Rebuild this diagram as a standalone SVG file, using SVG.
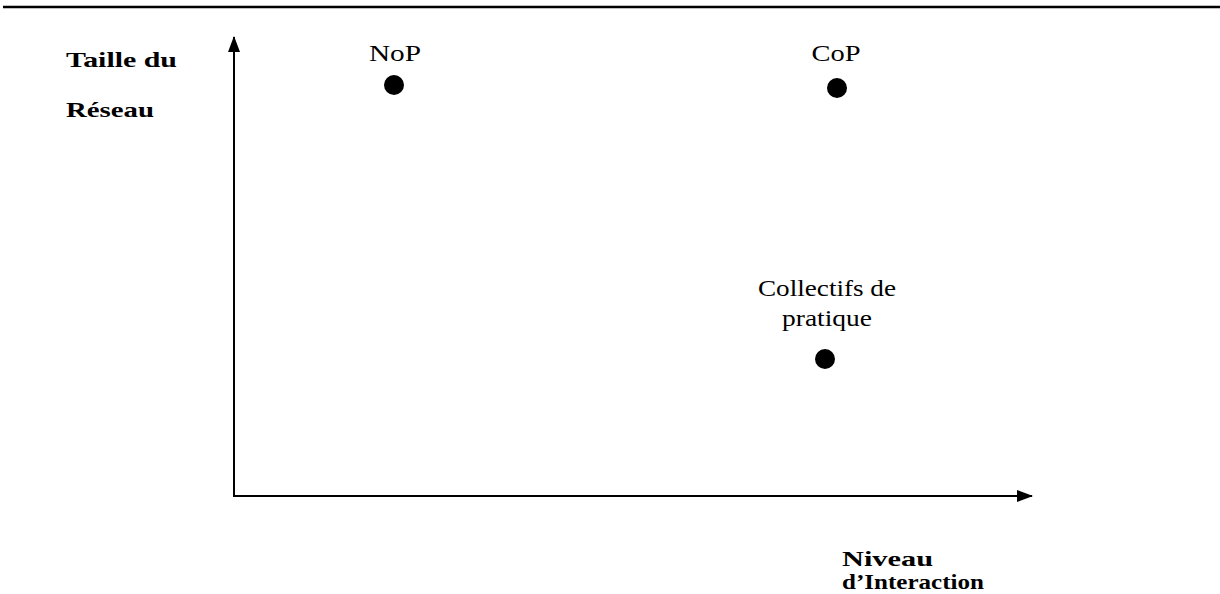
<svg xmlns="http://www.w3.org/2000/svg" width="1220" height="594" viewBox="0 0 1220 594">
<style>
.lbl{font-family:"Liberation Serif","Times New Roman",serif;font-size:23px;fill:#000;text-anchor:middle}
.ax{font-family:"Liberation Serif","Times New Roman",serif;font-size:22px;font-weight:bold;fill:#000}
.dot{fill:#000}
</style>
<defs>
<marker id="arr" markerWidth="16" markerHeight="12" refX="15" refY="6" orient="auto" markerUnits="userSpaceOnUse">
<path d="M0,0 L16,6 L0,12 Z" fill="#000"/>
</marker>
</defs>
<rect width="1220" height="594" fill="#fff"/>
<line x1="3" y1="7" x2="1220" y2="7" stroke="#000" stroke-width="2.5"/>
<g id="connectors">
<line x1="234" y1="497" x2="234" y2="37" stroke="#000" stroke-width="2" marker-end="url(#arr)"/>
<line x1="233" y1="496" x2="1032" y2="496" stroke="#000" stroke-width="2" marker-end="url(#arr)"/>
</g>
<g id="axis-y"><text class="ax" x="66" y="67" textLength="111" lengthAdjust="spacingAndGlyphs">Taille du</text><text class="ax" x="66" y="117" textLength="88" lengthAdjust="spacingAndGlyphs">Réseau</text></g>
<g id="axis-x"><text class="ax" x="842" y="566" textLength="91" lengthAdjust="spacingAndGlyphs">Niveau</text><text class="ax" x="842" y="589" textLength="142" lengthAdjust="spacingAndGlyphs">d’Interaction</text></g>
<g id="nop"><text class="lbl" x="395" y="61" textLength="52" lengthAdjust="spacingAndGlyphs">NoP</text><circle class="dot" cx="394" cy="85" r="10"/></g>
<g id="cop"><text class="lbl" x="836" y="61" textLength="49" lengthAdjust="spacingAndGlyphs">CoP</text><circle class="dot" cx="837" cy="88" r="10"/></g>
<g id="collectifs"><text class="lbl" x="827" y="296" textLength="138" lengthAdjust="spacingAndGlyphs">Collectifs de</text><text class="lbl" x="827" y="326" textLength="90" lengthAdjust="spacingAndGlyphs">pratique</text><circle class="dot" cx="825" cy="359" r="10"/></g>
</svg>
